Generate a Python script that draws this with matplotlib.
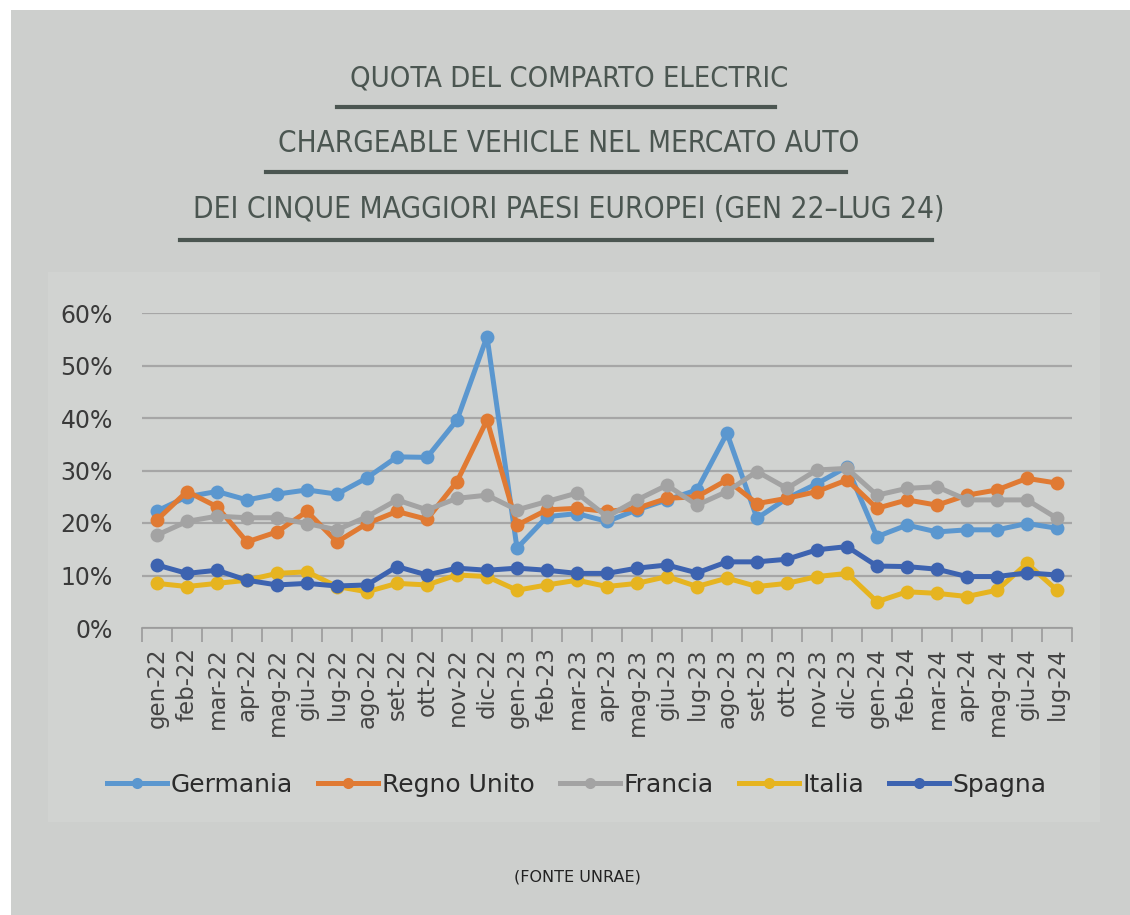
import matplotlib
matplotlib.use('Agg')
import matplotlib.pyplot as plt
from matplotlib.patches import Rectangle
from matplotlib.lines import Line2D
from matplotlib import font_manager

# dati (quota % sul mercato auto)
mesi = ['gen-22', 'feb-22', 'mar-22', 'apr-22', 'mag-22', 'giu-22', 'lug-22', 'ago-22',
        'set-22', 'ott-22', 'nov-22', 'dic-22', 'gen-23', 'feb-23', 'mar-23', 'apr-23',
        'mag-23', 'giu-23', 'lug-23', 'ago-23', 'set-23', 'ott-23', 'nov-23', 'dic-23',
        'gen-24', 'feb-24', 'mar-24', 'apr-24', 'mag-24', 'giu-24', 'lug-24']

germania = [22.3, 25.0, 26.0, 24.4, 25.5, 26.3, 25.5, 28.6, 32.6, 32.5, 39.6, 55.5,
            15.2, 21.2, 21.8, 20.3, 22.5, 24.4, 26.3, 37.1, 20.9, 24.7, 27.5, 30.7,
            17.4, 19.6, 18.3, 18.7, 18.7, 19.9, 19.0]
regno_unito = [20.6, 26.0, 23.1, 16.4, 18.3, 22.2, 16.4, 19.9, 22.2, 20.7, 27.9, 39.6,
               19.6, 22.5, 22.8, 22.2, 22.8, 24.7, 25.0, 28.2, 23.7, 24.7, 26.0, 28.2,
               22.8, 24.4, 23.4, 25.3, 26.3, 28.5, 27.6]
francia = [17.7, 20.3, 21.3, 21.0, 21.0, 19.9, 18.7, 21.2, 24.4, 22.5, 24.7, 25.3,
           22.5, 24.1, 25.7, 21.2, 24.4, 27.2, 23.4, 26.0, 29.8, 26.6, 30.1, 30.4,
           25.3, 26.6, 26.9, 24.4, 24.4, 24.4, 20.9]
italia = [8.5, 7.9, 8.5, 9.1, 10.4, 10.7, 7.9, 6.9, 8.5, 8.2, 10.1, 9.8,
          7.2, 8.2, 9.1, 7.9, 8.5, 9.8, 7.9, 9.5, 7.9, 8.5, 9.8, 10.4,
          5.0, 6.9, 6.6, 6.0, 7.2, 12.3, 7.2]
spagna = [12.0, 10.4, 11.0, 9.1, 8.2, 8.5, 8.0, 8.2, 11.7, 10.1, 11.4, 11.0,
          11.4, 11.0, 10.4, 10.4, 11.4, 12.0, 10.5, 12.6, 12.6, 13.1, 14.9, 15.5,
          11.8, 11.7, 11.2, 9.8, 9.8, 10.5, 10.1]

paesi = ['Germania', 'Regno Unito', 'Francia', 'Italia', 'Spagna']
serie = [germania, regno_unito, francia, italia, spagna]
colori = ['#5b97cf', '#e07a33', '#a3a3a3', '#e6b420', '#3d63b0']

titolo = ['QUOTA DEL COMPARTO ELECTRIC',
          'CHARGEABLE VEHICLE NEL MERCATO AUTO',
          'DEI CINQUE MAGGIORI PAESI EUROPEI (GEN 22\u2013LUG 24)']

nomi = {f.name for f in font_manager.fontManager.ttflist}
if 'Liberation Sans Narrow' in nomi:
    font_titolo = dict(family=['Liberation Sans Narrow', 'DejaVu Sans'])
else:
    font_titolo = dict(family=['DejaVu Sans'], fontstretch='condensed')

W, H = 1130, 915
fig = plt.figure(figsize=(W / 100, H / 100), dpi=100)
fig.patch.set_facecolor('white')

# sfondo grigio con bordino bianco a sinistra e in alto
fig.patches.append(Rectangle((11 / W, -0.05), 1.1, 1.05 - 10 / H, transform=fig.transFigure,
                             facecolor='#cdcfcd', edgecolor='none', zorder=-3))
fig.patches.append(Rectangle((48 / W, 1 - 822 / H), (1100 - 48) / W, (822 - 272) / H,
                             transform=fig.transFigure, facecolor='#d1d3d1',
                             edgecolor='none', zorder=-2))

# titolo con sottolineature
col_tit = '#4b5651'
centri = [78, 143, 209]
sott = [(337, 775, 107), (266, 846, 172), (180, 932, 240)]
renderer = fig.canvas.get_renderer()
for riga, yc, (x0, x1, yl) in zip(titolo, centri, sott):
    t = fig.text(0.5035, 1 - yc / H, riga, ha='center', va='center', fontsize=30,
                 color=col_tit, **font_titolo)
    w = t.get_window_extent(renderer).width
    t.set_fontsize(30 * (x1 - x0) / w)
    fig.add_artist(Line2D([x0 / W, x1 / W], [1 - yl / H, 1 - yl / H], transform=fig.transFigure,
                          color=col_tit, linewidth=3))

ax = fig.add_axes([142 / W, 1 - 628 / H, (1072 - 142) / W, (628 - 313) / H])
ax.set_facecolor('none')
x = list(range(len(mesi)))
for nome, valori, c in zip(paesi, serie, colori):
    ax.plot(x, valori, color=c, linewidth=3.6, marker='o', markersize=10,
            markeredgewidth=0, label=nome, solid_joinstyle='round')

ax.set_xlim(-0.5, len(mesi) - 0.5)
ax.set_ylim(0, 60)
ax.set_yticks(range(0, 61, 10))
ax.set_yticklabels([f'{v}%' for v in range(0, 61, 10)], fontsize=17, color='#3a3a3a')
ax.set_xticks(x)
ax.set_xticklabels(mesi, rotation=90, fontsize=16.5, color='#444444')
ax.set_xticks([i - 0.5 for i in range(len(mesi) + 1)], minor=True)
ax.tick_params(axis='x', which='major', length=0, pad=14)
ax.tick_params(axis='x', which='minor', length=10, color='#9a9a9a', width=1.2)
ax.tick_params(axis='y', length=0, pad=21)
ax.grid(axis='y', color='#a6a6a6', linewidth=1.6)
ax.set_axisbelow(True)
for s in ['top', 'right', 'left']:
    ax.spines[s].set_visible(False)
ax.spines['bottom'].set_color('#9a9a9a')
ax.spines['bottom'].set_linewidth(1.2)

fig.legend(loc='center', bbox_to_anchor=(577 / W, 1 - 785 / H), ncol=5, frameon=False,
           fontsize=18, handlelength=2.4, handletextpad=0.15, columnspacing=1.0,
           labelcolor='#2b2b2b', markerscale=0.8)

fig.text(577 / W, 1 - 877 / H, '(FONTE UNRAE)', ha='center', va='center', fontsize=11.5,
         color='#222222')

fig.savefig('out.png', dpi=100)
